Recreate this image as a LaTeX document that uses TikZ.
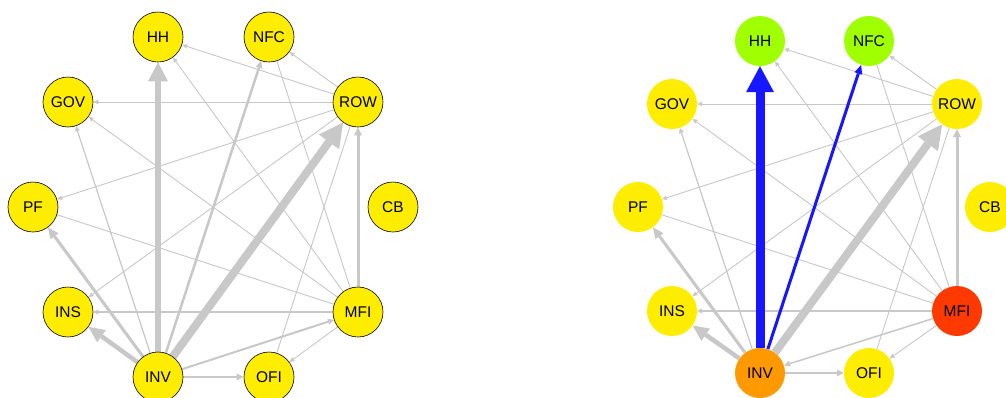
\documentclass[tikz,border=0pt]{standalone}
\usepackage{fontspec}
\setmainfont{Liberation Sans}
\usetikzlibrary{arrows.meta,backgrounds}
\definecolor{yl}{RGB}{255,237,0}
\definecolor{lime}{RGB}{160,255,0}
\definecolor{orng}{RGB}{255,153,0}
\definecolor{redo}{RGB}{255,58,0}
\definecolor{blu}{RGB}{22,22,255}
\definecolor{egray}{RGB}{200,200,200}
\begin{document}
\begin{tikzpicture}[x=1pt,y=-1pt,
  nd/.style={circle,minimum size=50pt,inner sep=0pt,font=\fontsize{15.5}{16}\selectfont,text=black},
  ln/.style={nd,fill=yl,draw=black,line width=0.6pt},
  rn/.style={nd,fill=#1},
  eg/.style={draw=egray,line width=0.9pt},
  ebl/.style={draw=blu},
  tp/.style n args={2}{-{Triangle[length=#1,width=#2,line width=0pt]}},
  thin/.style={eg,line width=0.9pt,tp={5pt}{4.5pt}},
  plain/.style={eg,line width=0.9pt}
]
\useasboundingbox (0,0) rectangle (1006,397);
\clip (0,0) rectangle (1006,397);

% ---------- left graph ----------
\node[ln] (LHH) at (158,37) {HH};
\node[ln] (LNFC) at (269,37) {NFC};
\node[ln] (LGOV) at (68,102) {GOV};
\node[ln] (LROW) at (358,102) {ROW};
\node[ln] (LPF) at (33,207) {PF};
\node[ln] (LCB) at (393,207) {CB};
\node[ln] (LINS) at (68,312) {INS};
\node[ln] (LMFI) at (358,312) {MFI};
\node[ln] (LINV) at (158,377) {INV};
\node[ln] (LOFI) at (269,377) {OFI};

% ---------- right graph ----------
\node[rn=lime] (RHH) at (760,41) {HH};
\node[rn=lime] (RNFC) at (869,41) {NFC};
\node[rn=yl] (RGOV) at (672,104) {GOV};
\node[rn=yl] (RROW) at (957,104) {ROW};
\node[rn=yl] (RPF) at (638,207) {PF};
\node[rn=yl] (RCB) at (990,207) {CB};
\node[rn=yl] (RINS) at (672,311) {INS};
\node[rn=redo] (RMFI) at (957,311) {MFI};
\node[rn=orng] (RINV) at (760,373) {INV};
\node[rn=yl] (ROFI) at (869,373) {OFI};

\begin{pgfonlayer}{background}
\fill[white] (0,0) rectangle (1006,397);
% left edges
\draw[plain] (LMFI) -- (LPF);
\draw[plain] (LMFI) -- (LNFC);
\draw[plain] (LOFI) -- (LROW);
\draw[thin] (LROW) -- (LGOV);
\draw[thin] (LROW) -- (LHH);
\draw[thin] (LROW) -- (LNFC);
\draw[thin] (LROW) -- (LPF);
\draw[thin] (LROW) -- (LINS);
\draw[thin] (LMFI) -- (LHH);
\draw[thin] (LMFI) -- (LGOV);
\draw[thin] (LMFI) -- (LOFI);
\draw[eg,line width=1.2pt,tp={5pt}{5pt}] (LMFI) -- (LINS);
\draw[eg,line width=1.2pt,tp={5pt}{5pt}] (LINV) -- (LGOV);
\draw[eg,line width=2pt,tp={6pt}{6pt}] (LINV) -- (LMFI);
\draw[eg,line width=2.5pt,tp={7pt}{7pt}] (LINV) -- (LOFI);
\draw[eg,line width=2.5pt,tp={7pt}{7pt}] (LINV) -- (LNFC);
\draw[eg,line width=3pt,tp={8pt}{8pt}] (LMFI) -- (LROW);
\draw[eg,line width=3pt,tp={11pt}{10pt}] (LINV) -- (LPF);
\draw[eg,line width=4.5pt,tp={16pt}{15pt}] (LINV) -- (LINS);
\draw[eg,line width=5.5pt,tp={19pt}{20pt}] (LINV) -- (LHH);
\draw[eg,line width=8pt,tp={24pt}{25pt}] (LINV) -- (LROW);

% right edges
\draw[plain] (RMFI) -- (RPF);
\draw[plain] (RMFI) -- (RNFC);
\draw[plain] (ROFI) -- (RROW);
\draw[thin] (RROW) -- (RGOV);
\draw[thin] (RROW) -- (RHH);
\draw[thin] (RROW) -- (RNFC);
\draw[thin] (RROW) -- (RPF);
\draw[thin] (RROW) -- (RINS);
\draw[thin] (RMFI) -- (RHH);
\draw[thin] (RMFI) -- (RGOV);
\draw[thin] (RMFI) -- (ROFI);
\draw[eg,line width=1.2pt,tp={5pt}{5pt}] (RMFI) -- (RINS);
\draw[eg,line width=1.2pt,tp={5pt}{5pt}] (RINV) -- (RGOV);
\draw[eg,line width=1.5pt,tp={6pt}{6pt}] (RMFI) -- (RINV);
\draw[eg,line width=2.5pt,tp={7pt}{7pt}] (RINV) -- (ROFI);
\draw[eg,line width=3pt,tp={8pt}{8pt}] (RMFI) -- (RROW);
\draw[eg,line width=3pt,tp={11pt}{10pt}] (RINV) -- (RPF);
\draw[eg,line width=4.5pt,tp={16pt}{15pt}] (RINV) -- (RINS);
\draw[eg,line width=8pt,tp={24pt}{25pt}] (RINV) -- (RROW);
\draw[ebl,line width=3pt,tp={9pt}{8pt}] (RINV) -- (RNFC);
\draw[ebl,line width=9pt,tp={26pt}{28pt}] (RINV) -- (RHH);
\end{pgfonlayer}
\end{tikzpicture}
\end{document}
